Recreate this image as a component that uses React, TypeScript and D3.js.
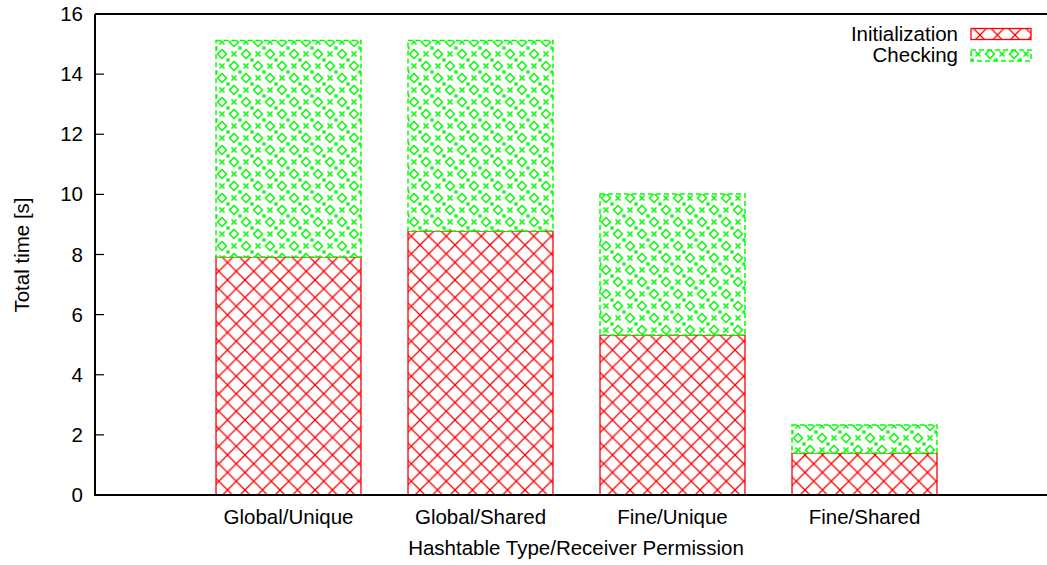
import React from "react";
import * as d3 from "d3";

const categories = ["Global/Unique", "Global/Shared", "Fine/Unique", "Fine/Shared"];
const initialization = [7.92, 8.78, 5.32, 1.4];
const checking = [7.2, 6.34, 4.69, 0.93];
const yTicks = [0, 2, 4, 6, 8, 10, 12, 14, 16];
const seriesNames = ["Initialization", "Checking"];

const W = 1047;
const H = 565;
const left = 95;
const top = 14;
const bottom = 495;

export default function App() {
  const y = d3.scaleLinear().domain([0, 16]).range([bottom, top]);
  const x = d3.scaleLinear().domain([-1, 4]).range([96.5, 1056.5]);
  const bw = 0.755 * 192;
  const font = "'Liberation Sans', Arial, Helvetica, sans-serif";
  const fs = 20.5;
  const rw = 17.5;
  const g = 24;
  const ring = (cx: number, cy: number) => `M${cx},${cy - 4.5}L${cx + 4.5},${cy}L${cx},${cy + 4.5}L${cx - 4.5},${cy}Z`;
  const cross = (cx: number, cy: number) => `M${cx - 2.5},${cy - 2.5}L${cx + 2.5},${cy + 2.5}M${cx + 2.5},${cy - 2.5}L${cx - 2.5},${cy + 2.5}`;
  return (
    <svg width={W} height={H} style={{ position: "absolute", left: 0, top: 0 }} fontFamily={font}>
      <defs>
        <pattern id="red" patternUnits="userSpaceOnUse" width={rw} height={rw}>
          <rect width={rw} height={rw} fill="white" />
          <path d={`M0,0L${rw},${rw}M${rw},0L0,${rw}`} stroke="#ff0000" strokeWidth={1.3} fill="none" />
        </pattern>
        <pattern id="green" patternUnits="userSpaceOnUse" width={g} height={g}>
          <rect width={g} height={g} fill="white" />
          <path d={ring(6, 6) + ring(18, 18)} stroke="#00ff00" strokeWidth={1.5} fill="none" />
          <path d={cross(18, 6) + cross(6, 18)} stroke="#00ff00" strokeWidth={1.5} fill="none" />
          <path d={`M0,0L1.5,1.5M12,12L10.5,10.5M12,12L13.5,13.5M24,24L22.5,22.5M24,0L22.5,1.5M12,12L13.5,10.5M12,12L10.5,13.5M0,24L1.5,22.5`} stroke="#00ff00" strokeWidth={1.5} fill="none" />
        </pattern>
      </defs>
      <rect width={W} height={H} fill="white" />
      {categories.map((c, i) => {
        const x0 = x(i) - bw / 2;
        const yi = y(initialization[i]);
        const yt = y(initialization[i] + checking[i]);
        return (
          <g key={c}>
            <rect x={x0} y={yi} width={bw} height={bottom - yi} fill="url(#red)" stroke="#ff0000" strokeWidth={1.3} />
            <rect x={x0} y={yt} width={bw} height={yi - yt} fill="url(#green)" stroke="#00ff00" strokeWidth={1.5} strokeDasharray="5,3" />
            <text x={x(i)} y={524} textAnchor="middle" fontSize={fs}>{c}</text>
          </g>
        );
      })}
      <path d={`M${left},${top}H${W}M${left},${top}V${bottom}H${W}`} stroke="black" strokeWidth={2} fill="none" />
      {yTicks.map((t) => (
        <g key={t}>
          <line x1={left} x2={left + 9} y1={y(t)} y2={y(t)} stroke="black" strokeWidth={1.2} />
          <text x={83} y={y(t) + 7} textAnchor="end" fontSize={fs}>{t}</text>
        </g>
      ))}
      <text x={576} y={555} textAnchor="middle" fontSize={fs}>Hashtable Type/Receiver Permission</text>
      <text transform={`translate(29,${255}) rotate(-90)`} textAnchor="middle" fontSize={fs}>Total time [s]</text>
      <text x={958} y={41} textAnchor="end" fontSize={fs}>{seriesNames[0]}</text>
      <rect x={971} y={28.5} width={60} height={11} fill="url(#red)" stroke="#ff0000" strokeWidth={1.3} />
      <text x={958} y={62} textAnchor="end" fontSize={fs}>{seriesNames[1]}</text>
      <rect x={971} y={50} width={60} height={11} fill="url(#green)" stroke="#00ff00" strokeWidth={1.5} strokeDasharray="5,3" />
    </svg>
  );
}
